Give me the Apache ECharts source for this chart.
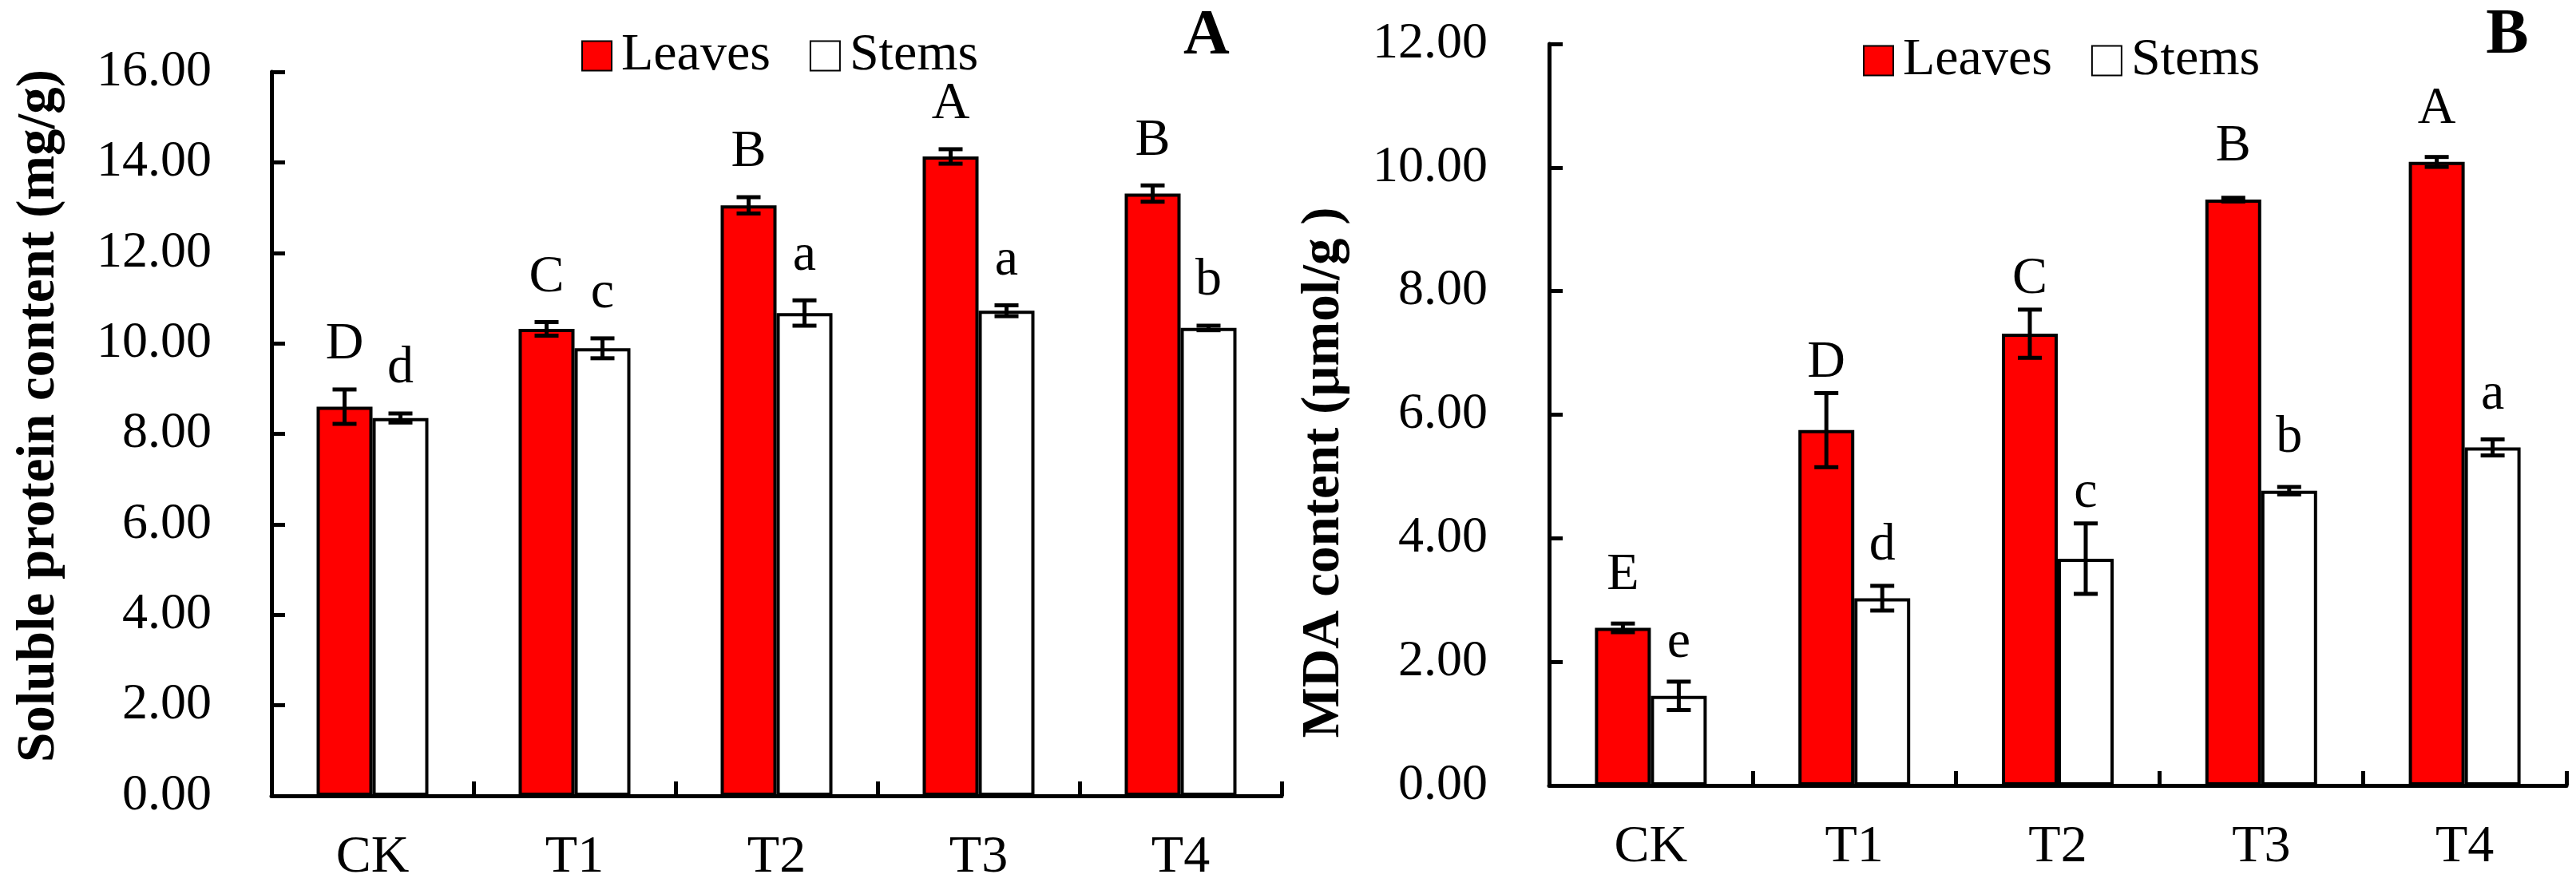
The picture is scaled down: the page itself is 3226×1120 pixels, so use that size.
<!DOCTYPE html>
<html>
<head>
<meta charset="utf-8">
<script src="https://cdn.jsdelivr.net/npm/echarts@6/dist/echarts.min.js"></script>
<style>
html,body{margin:0;padding:0;background:#fff;}
#main{width:3226px;height:1120px;}
</style>
</head>
<body>
<div id="main"></div>
<script>
// ---------- data ----------
const categories = ['CK', 'T1', 'T2', 'T3', 'T4'];
const seriesNames = ['Leaves', 'Stems'];

// Panel A: soluble protein content (mg/g)
const proteinLeaves = [8.60, 10.32, 13.05, 14.13, 13.31];
const proteinLeavesErr = [0.38, 0.15, 0.18, 0.16, 0.18];
const proteinStems = [8.35, 9.89, 10.67, 10.72, 10.34];
const proteinStemsErr = [0.10, 0.22, 0.28, 0.12, 0.05];
const proteinLeavesLetters = ['D', 'C', 'B', 'A', 'B'];
const proteinStemsLetters = ['d', 'c', 'a', 'a', 'b'];

// Panel B: MDA content (µmol/g)
const mdaLeaves = [2.55, 5.75, 7.31, 9.48, 10.09];
const mdaLeavesErr = [0.07, 0.60, 0.39, 0.03, 0.08];
const mdaStems = [1.45, 3.03, 3.67, 4.77, 5.47];
const mdaStemsErr = [0.23, 0.20, 0.57, 0.06, 0.13];
const mdaLeavesLetters = ['E', 'D', 'C', 'B', 'A'];
const mdaStemsLetters = ['e', 'd', 'c', 'b', 'a'];

// axis tick settings
const proteinAxis = { min: 0, max: 16, interval: 2 };
const mdaAxis = { min: 0, max: 12, interval: 2 };

const panelLetters = ['A', 'B'];
const yTitles = ['Soluble protein content (mg/g)', 'MDA content (\u03bcmol/g )'];

// ---------- chart ----------
const FONT = '"Liberation Serif", "Times New Roman", serif';
const chart = echarts.init(document.getElementById('main'), null, { renderer: 'canvas' });

const BAR_W = 70;

function xAxisCfg(gi) {
  return {
    type: 'category', gridIndex: gi, data: categories,
    axisLine: { lineStyle: { color: '#000', width: 5 } },
    axisTick: { show: true, inside: true, length: 18, lineStyle: { color: '#000', width: 5 } },
    axisLabel: { color: '#000', fontSize: 66, fontFamily: FONT, margin: 45 },
    splitLine: { show: false }
  };
}
function yAxisCfg(gi, ax, margin) {
  return {
    type: 'value', gridIndex: gi, min: ax.min, max: ax.max, interval: ax.interval,
    axisLine: { show: true, lineStyle: { color: '#000', width: 5 } },
    axisTick: { show: true, inside: true, length: 17, lineStyle: { color: '#000', width: 5 } },
    axisLabel: { color: '#000', fontSize: 64, fontFamily: FONT, margin: margin,
      formatter: v => v.toFixed(2) },
    splitLine: { show: false }
  };
}
function barSeries(name, gi, data, color) {
  return {
    name: name, type: 'bar', xAxisIndex: gi, yAxisIndex: gi, data: data,
    barWidth: BAR_W, barGap: '0%',
    itemStyle: { color: color, borderColor: '#000', borderWidth: 4 },
    z: 2
  };
}
function errSeries(name, gi, vals, errs, letters, side, g1, g2) {
  return {
    name: name, type: 'custom', xAxisIndex: gi, yAxisIndex: gi,
    data: vals.map((v, i) => [i, v, errs[i]]),
    encode: { x: 0, y: 1 },
    z: 5, silent: true,
    renderItem: function (params, api) {
      const i = api.value(0), v = api.value(1), e = api.value(2);
      const cx = api.coord([i, 0])[0] + side * BAR_W / 2;
      const yTop = api.coord([i, v + e])[1];
      const yBot = api.coord([i, v - e])[1];
      const yBar = api.coord([i, v])[1];
      const base = Math.min(yBar - g1, yTop - g2);
      const ls = { stroke: '#000', lineWidth: 5 };
      return {
        type: 'group',
        children: [
          { type: 'line', shape: { x1: cx, y1: yTop, x2: cx, y2: yBot }, style: ls },
          { type: 'line', shape: { x1: cx - 15, y1: yTop, x2: cx + 15, y2: yTop }, style: ls },
          { type: 'line', shape: { x1: cx - 15, y1: yBot, x2: cx + 15, y2: yBot }, style: ls },
          { type: 'text', x: cx, y: base - 22,
            style: { text: letters[i], fill: '#000', font: '66px ' + FONT, align: 'center', verticalAlign: 'middle' } }
        ]
      };
    }
  };
}

const legendCommon = {
  data: seriesNames, icon: 'rect', itemWidth: 37, itemHeight: 37, itemGap: 49,
  textStyle: { color: '#000', fontSize: 66, fontFamily: FONT, padding: [0, 0, 0, 7] },
  selectedMode: false
};

const option = {
  backgroundColor: '#fff',
  animation: false,
  legend: [
    Object.assign({ left: 723, top: 32 }, legendCommon),
    Object.assign({ left: 2328, top: 38 }, legendCommon)
  ],
  grid: [
    { left: 340, top: 90, width: 1265, height: 907 },
    { left: 1940, top: 55, width: 1274, height: 929 }
  ],
  xAxis: [xAxisCfg(0), xAxisCfg(1)],
  yAxis: [yAxisCfg(0, proteinAxis, 75), yAxisCfg(1, mdaAxis, 77)],
  series: [
    barSeries(seriesNames[0], 0, proteinLeaves, '#FF0000'),
    barSeries(seriesNames[1], 0, proteinStems, '#FFFFFF'),
    barSeries(seriesNames[0], 1, mdaLeaves, '#FF0000'),
    barSeries(seriesNames[1], 1, mdaStems, '#FFFFFF'),
    errSeries('errA1', 0, proteinLeaves, proteinLeavesErr, proteinLeavesLetters, -1, 34, 34),
    errSeries('errA2', 0, proteinStems, proteinStemsErr, proteinStemsLetters, 1, 34, 34),
    errSeries('errB1', 1, mdaLeaves, mdaLeavesErr, mdaLeavesLetters, -1, 44, 16),
    errSeries('errB2', 1, mdaStems, mdaStemsErr, mdaStemsLetters, 1, 44, 16)
  ],
  graphic: [
    { type: 'text', x: 50, y: 521, rotation: Math.PI / 2,
      style: { text: yTitles[0], fill: '#000', font: 'bold 67px ' + FONT, align: 'center', verticalAlign: 'middle' } },
    { type: 'text', x: 1659, y: 592, rotation: Math.PI / 2,
      style: { text: yTitles[1], fill: '#000', font: 'bold 67px ' + FONT, align: 'center', verticalAlign: 'middle' } },
    { type: 'text', x: 1511, y: 46,
      style: { text: panelLetters[0], fill: '#000', font: 'bold 80px ' + FONT, align: 'center', verticalAlign: 'middle' } },
    { type: 'text', x: 3140, y: 45,
      style: { text: panelLetters[1], fill: '#000', font: 'bold 80px ' + FONT, align: 'center', verticalAlign: 'middle' } }
  ]
};
chart.setOption(option);
</script>
</body>
</html>
